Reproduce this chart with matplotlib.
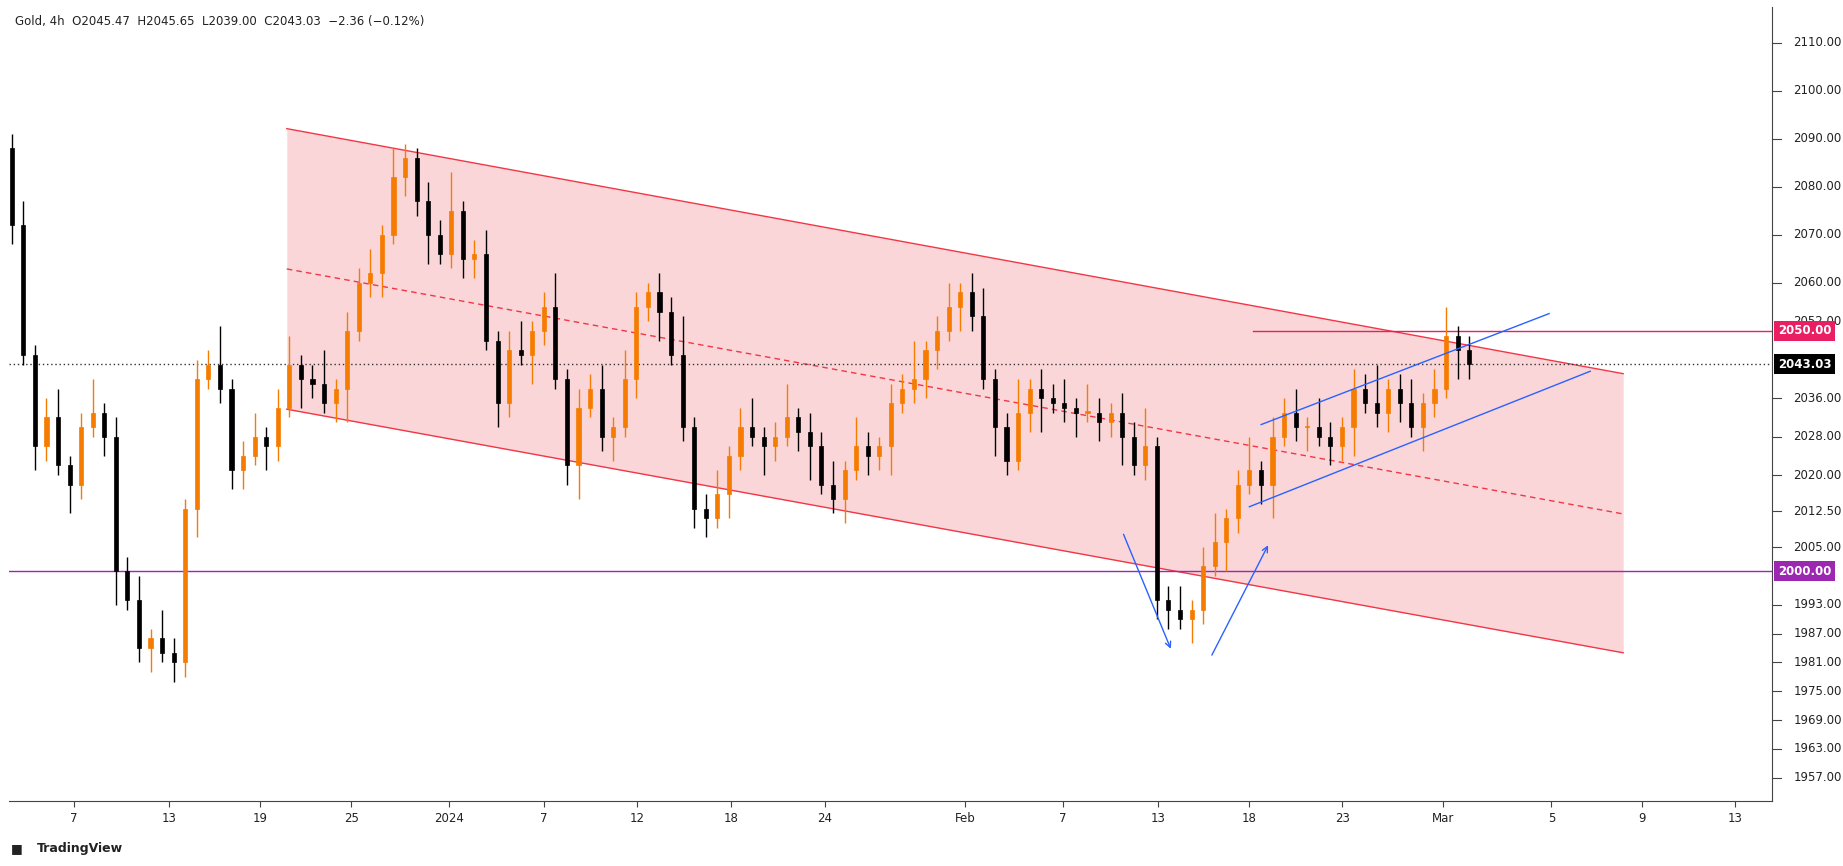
import matplotlib; matplotlib.use("Agg")
import matplotlib.pyplot as plt
import matplotlib.transforms as mtrans
import numpy as np

# ---- data (12h candles) ----
first_open = 2088.0
closes = [2072,2045,2026,2032,2022,2018,2030,2033,2028,
          2000,1994,1984,1986,1983,1981,
          2013,2040,2043,2038,2021,2024,2028,2026,2034,2043,2040,2039,2035,2038,2050,2060,2062,2070,2082,2086,
          2077,2070,2066,2075,2065,2066,2048,2035,2046,2045,2050,2055,2040,2022,2034,2038,2028,
          2030,2040,2055,2058,2054,2045,2030,2013,2011,2016,2024,2030,2028,2026,2028,2032,2029,2026,2018,
          2015,2021,2026,2024,2026,2035,2038,2040,2046,2050,2055,2058,2053,2040,2030,2023,2033,2038,
          2036,2035,2034,2033,2033,2031,2033,2028,2022,2026,1994,1992,1990,1992,2001,2006,2011,2018,2021,2018,
          2028,2033,2030,2030,2028,2026,2030,2038,2035,2033,2038,2035,2030,2035,2038,2049,
          2046,2043.03]
hi_ext = [3,5,2,4,6,2,3,7,2,4,3,5,2,6,3,2,4,3,8,2]
lo_ext = [4,2,5,3,2,6,3,2,4,7,2,3,5,2,4,3,6,2,3,4]

tick_pos = [63,144,221,299,382,463,542,622,702,821,904,985,1063,1142,1228,1320,1397,1476]
tick_lab = ["7","13","19","25","2024","7","12","18","24","Feb","7","13","18","23","Mar","5","9","13"]
price_ticks = [2110,2100,2090,2080,2070,2060,2036,2028,2020,2012.5,2005,1993,1987,1981,1975,1969,1963,1957]

UP = "#F57C00"; DN = "#000000"

fig = plt.figure(figsize=(18.43, 8.66), dpi=100)
ax = fig.add_axes([0.0051, 0.0748, 0.9566, 0.917])
ax.set_xlim(0, 1500)
ax.set_ylim(1952.1, 2117.4)

n = len(closes)
xs = np.linspace(2, 1242, n)
opens = [first_open] + closes[:-1]
for i, (x, o, c) in enumerate(zip(xs, opens, closes)):
    col = UP if c >= o else DN
    h = max(o, c) + hi_ext[i % len(hi_ext)]
    l = min(o, c) - lo_ext[i % len(lo_ext)]
    ax.vlines(x, l, h, color=col, lw=1, zorder=4)
    ax.bar(x, abs(c - o) if abs(c - o) > 0.3 else 0.3, bottom=min(o, c), width=3.5,
           color=col, edgecolor=col, lw=0.5, zorder=5)

# descending channel
cx = [236, 1373]
up = [2092.1, 2041.1]; lo = [2033.7, 1983.0]; mid = [2062.9, 2011.9]
ax.fill_between(cx, lo, up, color="#F8BBC0", alpha=0.6, lw=0, zorder=1)
ax.plot(cx, up, color="#F23645", lw=1, zorder=2)
ax.plot(cx, lo, color="#F23645", lw=1, zorder=2)
ax.plot(cx, mid, color="#F23645", lw=1, ls=(0, (4, 3)), zorder=2)

# rising blue channel
ax.plot([1065, 1310], [2030.5, 2053.6], color="#2962FF", lw=1, zorder=6)
ax.plot([1055, 1345], [2013.4, 2041.6], color="#2962FF", lw=1, zorder=6)
ax.annotate("", xy=(989, 1983.3), xytext=(947, 2008.2),
            arrowprops=dict(arrowstyle="->", color="#2962FF", lw=1), zorder=6)
ax.annotate("", xy=(1072, 2005.9), xytext=(1022, 1982.0),
            arrowprops=dict(arrowstyle="->", color="#2962FF", lw=1), zorder=6)

# horizontal levels
ax.axhline(2000, color="#9C27B0", lw=1, zorder=3)
ax.plot([1058, 1500], [2050, 2050], color="#E91E63", lw=1, zorder=3)
ax.axhline(2043.03, color="#333", lw=1, ls=(0, (1, 2)), zorder=3)

# axes styling
for s in ["top", "left"]:
    ax.spines[s].set_visible(False)
ax.spines["right"].set_color("#444"); ax.spines["bottom"].set_color("#444")
ax.set_xticks([p - 8 for p in tick_pos])
ax.set_xticklabels(tick_lab, fontsize=8.5, color="#222")
ax.tick_params(axis="x", length=4, color="#444")
ax.set_yticks([])

tr = mtrans.blended_transform_factory(ax.transAxes, ax.transData)
for p in price_ticks:
    ax.text(1.012, p, f"{p:.2f}", transform=tr, fontsize=8.5, va="center", ha="left", color="#222", clip_on=False)
    ax.plot([1.0, 1.005], [p, p], transform=tr, color="#444", lw=0.8, clip_on=False)
ax.text(1.012, 2052, "2052.00", transform=tr, fontsize=8.5, va="center", ha="left", color="#222", clip_on=False)
for p, fc in [(2050, "#E91E63"), (2043.03, "#000000"), (2000, "#9C27B0")]:
    ax.text(1.003, p, f"{p:.2f}", transform=tr, fontsize=8.5, weight="bold", va="center", ha="left",
            color="white", clip_on=False, zorder=10,
            bbox=dict(boxstyle="square,pad=0.3", fc=fc, ec="none"))

fig.text(0.008, 0.975, "Gold, 4h  O2045.47  H2045.65  L2039.00  C2043.03  \u22122.36 (\u22120.12%)",
         fontsize=8.5, color="#222", va="center")
fig.text(0.02, 0.02, "TradingView", fontsize=9, weight="bold", color="#222", va="center")
fig.text(0.006, 0.02, "\u25A0", fontsize=9, color="#222", va="center")

fig.savefig("out.png", dpi=100, facecolor="white")
